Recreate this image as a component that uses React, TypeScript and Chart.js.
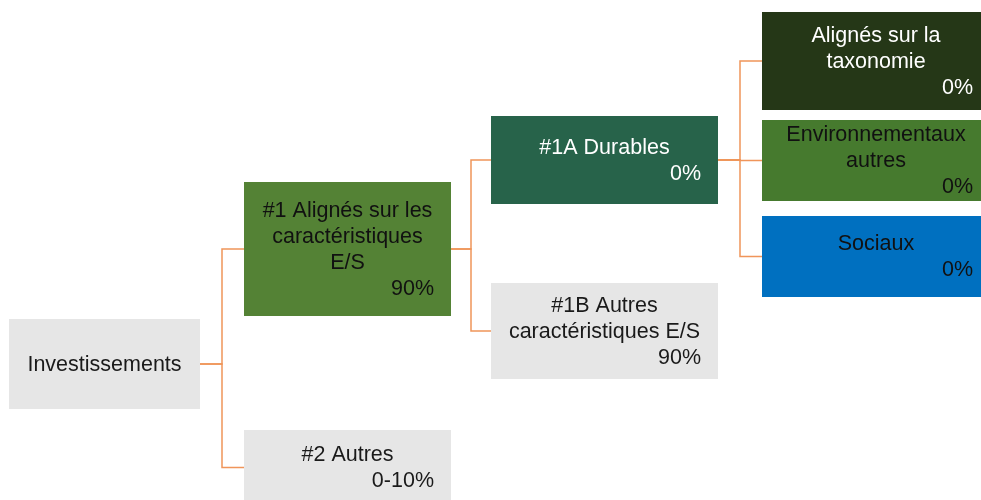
import React, { useEffect, useRef } from "react";
import { Chart, registerables } from "chart.js";

Chart.register(...registerables);

// ---- data ----
const boxTitles: string[][] = [
  ["Investissements"],
  ["#1 Alignés sur les", "caractéristiques", "E/S"],
  ["#2 Autres"],
  ["#1A Durables"],
  ["#1B Autres", "caractéristiques E/S"],
  ["Alignés sur la", "taxonomie"],
  ["Environnementaux", "autres"],
  ["Sociaux"],
];
const boxShares: string[] = ["", "90%", "0-10%", "0%", "90%", "0%", "0%", "0%"];
const boxParents: number[] = [-1, 0, 0, 1, 1, 3, 3, 3];

// ---- layout (pixel-space values on hidden linear axes) ----
const boxLeft = [9, 244, 244, 491, 491, 762, 762, 762];
const boxRight = [200, 451, 451, 718, 718, 990, 990, 990];
const boxTop = [319, 182, 430, 116, 283, 12, 120, 216];
const boxBottom = [409, 316, 505, 204, 379, 110, 201, 297];
const boxFill = ["#e6e6e6", "#548235", "#e6e6e6", "#27634a", "#e6e6e6", "#253717", "#467a2e", "#0070c0"];
const boxText = ["#1a1a1a", "#111111", "#1a1a1a", "#ffffff", "#1a1a1a", "#ffffff", "#111111", "#111111"];
const elbowX = [222, 471, 740];

const FONT = '21.5px "Liberation Sans", Arial, sans-serif';
const LINE_H = 26;

function connectorDatasets() {
  const sets: any[] = [];
  boxParents.forEach((p, i) => {
    if (p < 0) return;
    const level = p === 0 ? 0 : p === 1 ? 1 : 2;
    const ex = elbowX[level];
    const py = (boxTop[p] + boxBottom[p]) / 2;
    const cy = (boxTop[i] + boxBottom[i]) / 2;
    sets.push({
      type: "line",
      data: [
        { x: boxRight[p], y: py },
        { x: ex, y: py },
        { x: ex, y: cy },
        { x: boxLeft[i], y: cy },
      ],
      borderColor: "#f0955a",
      borderWidth: 1.5,
      pointRadius: 0,
      fill: false,
      tension: 0,
    });
  });
  return sets;
}

const boxesPlugin = {
  id: "boxes",
  afterDatasetsDraw(chart: any) {
    const { ctx, scales } = chart;
    const xs = scales.x;
    const ys = scales.y;
    ctx.save();
    boxTitles.forEach((lines, i) => {
      const x0 = xs.getPixelForValue(boxLeft[i]);
      const x1 = xs.getPixelForValue(boxRight[i]);
      const y0 = ys.getPixelForValue(boxTop[i]);
      const y1 = ys.getPixelForValue(boxBottom[i]);
      ctx.fillStyle = boxFill[i];
      ctx.fillRect(x0, y0, x1 - x0, y1 - y0);
      const all = boxShares[i] ? [...lines, boxShares[i]] : lines;
      const n = all.length;
      const cx = (x0 + x1) / 2;
      const cy = (y0 + y1) / 2;
      ctx.font = FONT;
      ctx.fillStyle = boxText[i];
      ctx.textBaseline = "middle";
      all.forEach((t, k) => {
        const ty = cy + (k - (n - 1) / 2) * LINE_H + 1;
        if (boxShares[i] && k === n - 1) {
          ctx.textAlign = "right";
          ctx.fillText(t, x1 - 17, ty);
        } else {
          ctx.textAlign = "center";
          ctx.fillText(t, cx, ty);
        }
      });
    });
    ctx.restore();
  },
};

export default function App() {
  const ref = useRef<HTMLCanvasElement>(null);
  useEffect(() => {
    document.body.style.margin = "0";
    const chart = new Chart(ref.current!, {
      type: "scatter",
      data: { datasets: connectorDatasets() },
      options: {
        animation: false,
        responsive: false,
        maintainAspectRatio: false,
        layout: { padding: 0 },
        plugins: { legend: { display: false }, tooltip: { enabled: false } },
        scales: {
          x: { type: "linear", min: 0, max: 981, display: false },
          y: { type: "linear", min: 0, max: 500, reverse: true, display: false },
        },
      },
      plugins: [boxesPlugin],
    });
    return () => chart.destroy();
  }, []);
  return (
    <div style={{ position: "absolute", left: 0, top: 0, width: 981, height: 500, background: "#fff" }}>
      <canvas ref={ref} width={981} height={500} style={{ width: 981, height: 500 }} />
    </div>
  );
}
